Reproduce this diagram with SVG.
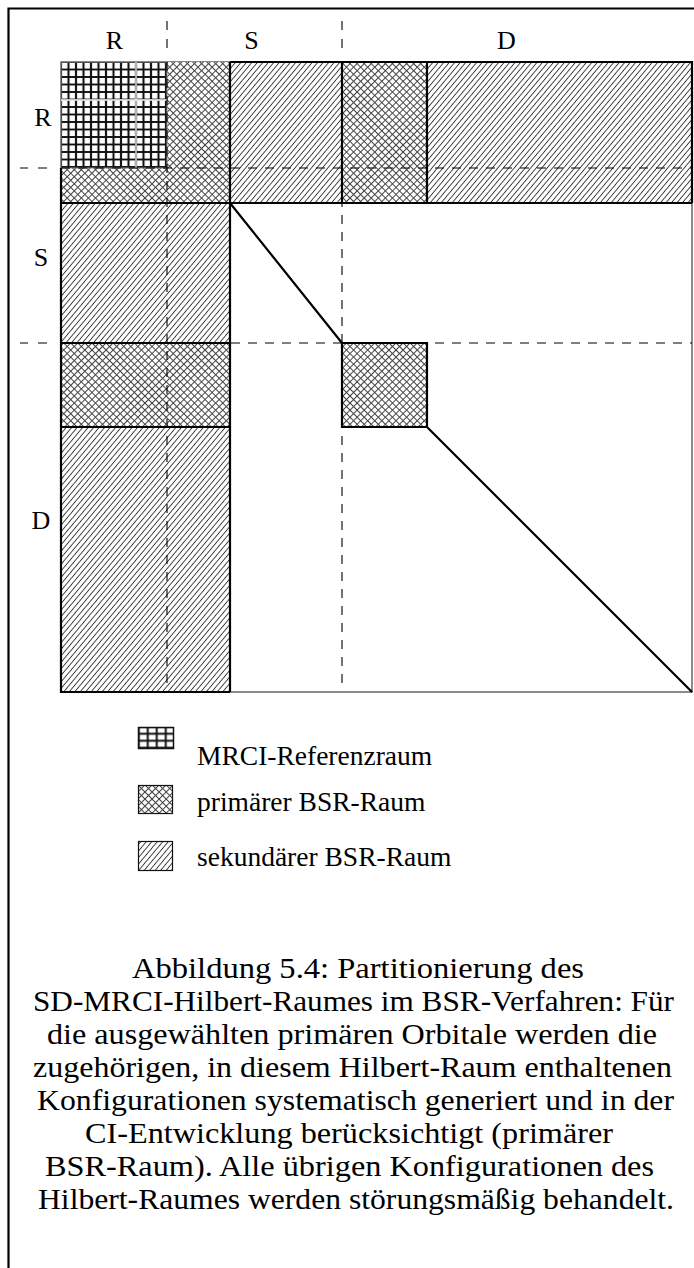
<svg xmlns="http://www.w3.org/2000/svg" width="694" height="1268" viewBox="0 0 694 1268">
<style>
.lbl{font-family:"Liberation Serif","Times New Roman",serif;font-size:26px;fill:#000;text-anchor:middle}
.leg{font-family:"Liberation Serif","Times New Roman",serif;font-size:27.5px;fill:#000}
.cap{font-family:"Liberation Serif","Times New Roman",serif;font-size:29.5px;fill:#000}
.thick{fill:none;stroke:#000;stroke-width:2.2;stroke-linejoin:miter}
.dash{fill:none;stroke:#000;stroke-width:1.1;stroke-dasharray:9 8}
.dsh{fill:none;stroke:#000;stroke-width:1.1}
</style>
<defs>
<pattern id="grid" patternUnits="userSpaceOnUse" x="57.25" y="58.25" width="7.5" height="7.5">
<rect width="7.5" height="7.5" fill="#fff"/>
<path d="M0 3.75H7.5M3.75 0V7.5" stroke="#111" stroke-width="2.1"/>
</pattern>
<pattern id="gridL" patternUnits="userSpaceOnUse" x="134.25" y="723.25" width="9" height="7">
<rect width="9" height="7" fill="#fff"/>
<path d="M0 3.5H9M4.5 0V7" stroke="#111" stroke-width="2"/>
</pattern>
<pattern id="cross" patternUnits="userSpaceOnUse" width="5" height="5" patternTransform="rotate(45)">
<rect width="5" height="5" fill="#fff"/>
<path d="M0 2.5H5M2.5 0V5" stroke="#444" stroke-width="1"/>
</pattern>
<pattern id="hatch" patternUnits="userSpaceOnUse" width="4.2" height="10" patternTransform="rotate(40)">
<rect width="4.2" height="10" fill="#fff"/>
<path d="M2.1 0V10" stroke="#333" stroke-width="0.9"/>
</pattern>
</defs>
<rect width="694" height="1268" fill="#fff"/>
<path id="page-frame" d="M8.5 1268V8.5H694" fill="none" stroke="#000" stroke-width="2.2"/>

<g id="matrix">
<rect x="61" y="62" width="631" height="630" fill="#fff" stroke="#666" stroke-width="1.5"/>
<g id="primary-blocks">
<rect x="61" y="62" width="169" height="141" fill="url(#cross)"/>
<rect x="342" y="62" width="85" height="141" fill="url(#cross)"/>
<rect x="61" y="343" width="169" height="84" fill="url(#cross)"/>
<rect x="342" y="343" width="85" height="84" fill="url(#cross)"/>
</g>
<g id="secondary-blocks">
<rect x="230" y="62" width="112" height="141" fill="url(#hatch)"/>
<rect x="427" y="62" width="265" height="141" fill="url(#hatch)"/>
<rect x="61" y="203" width="169" height="140" fill="url(#hatch)"/>
<rect x="61" y="427" width="169" height="265" fill="url(#hatch)"/>
</g>
<g id="reference-block">
<rect x="61" y="62" width="106" height="106" fill="url(#grid)" stroke="#888" stroke-width="1"/>
<path d="M136 62V168M61 100H167" stroke="#fff" stroke-width="1.3"/>
</g>
</g>

<g id="connectors">
<path class="dsh" d="M167 21V30M167 39V48M342 21V30M342 39V48M20 168H28M38 168H47M20 343H28M38 343H47"/>
<path class="dash" d="M167 62V692M342 62V690M61 168H692M61 343H692"/>
<path class="thick" d="M230 62V692M342 62V203M427 62V203M230 62H692V203M61 203H692M61 168V692H230M61 343H230M61 427H230M342 343H427V427H342ZM230 203L342 343M427 427L692 692"/>
</g>

<g id="labels">
<text class="lbl" x="114.5" y="49">R</text>
<text class="lbl" x="251.5" y="49">S</text>
<text class="lbl" x="506.5" y="49">D</text>
<text class="lbl" x="43" y="126">R</text>
<text class="lbl" x="41" y="266">S</text>
<text class="lbl" x="41" y="529">D</text>
</g>

<g id="legend">
<g id="legend-reference">
<rect x="138.5" y="727.5" width="35" height="21" fill="url(#gridL)" stroke="#111" stroke-width="1.5"/>
<text class="leg" x="197" y="765">MRCI-Referenzraum</text>
</g>
<g id="legend-primary">
<rect x="138.5" y="785.5" width="34" height="28" fill="url(#cross)" stroke="#111" stroke-width="1.2"/>
<text class="leg" x="197" y="811">primärer BSR-Raum</text>
</g>
<g id="legend-secondary">
<rect x="138.5" y="841.5" width="34" height="29" fill="url(#hatch)" stroke="#111" stroke-width="1.2"/>
<text class="leg" x="197" y="866">sekundärer BSR-Raum</text>
</g>
</g>

<g id="caption">
<text class="cap" x="132" y="978" textLength="452" lengthAdjust="spacingAndGlyphs">Abbildung 5.4: Partitionierung des</text>
<text class="cap" x="33" y="1011" textLength="641" lengthAdjust="spacingAndGlyphs">SD-MRCI-Hilbert-Raumes im BSR-Verfahren: Für</text>
<text class="cap" x="47" y="1044" textLength="610" lengthAdjust="spacingAndGlyphs">die ausgewählten primären Orbitale werden die</text>
<text class="cap" x="33" y="1077" textLength="639" lengthAdjust="spacingAndGlyphs">zugehörigen, in diesem Hilbert-Raum enthaltenen</text>
<text class="cap" x="37" y="1110" textLength="637" lengthAdjust="spacingAndGlyphs">Konfigurationen systematisch generiert und in der</text>
<text class="cap" x="85" y="1143" textLength="528" lengthAdjust="spacingAndGlyphs">CI-Entwicklung berücksichtigt (primärer</text>
<text class="cap" x="45" y="1176" textLength="609" lengthAdjust="spacingAndGlyphs">BSR-Raum). Alle übrigen Konfigurationen des</text>
<text class="cap" x="38" y="1209" textLength="636" lengthAdjust="spacingAndGlyphs">Hilbert-Raumes werden störungsmäßig behandelt.</text>
</g>
</svg>
